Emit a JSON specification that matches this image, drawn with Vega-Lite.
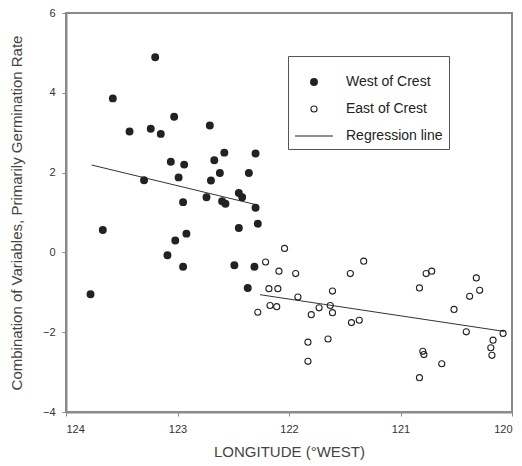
{
  "$schema": "https://vega.github.io/schema/vega-lite/v6.json",
  "width": 446,
  "height": 399,
  "autosize": "none",
  "padding": {"left": 66, "top": 13, "right": 10, "bottom": 54},
  "background": "white",
  "config": {
    "font": "Liberation Sans",
    "view": {"stroke": "#8a8a8a", "strokeWidth": 2},
    "axis": {"grid": false, "domainColor": "#8a8a8a", "domainWidth": 2, "tickColor": "#8a8a8a", "tickSize": 4, "labelColor": "#333", "titleColor": "#444", "labelFontSize": 11, "titleFontWeight": "normal", "labelPadding": 7}
  },
  "datasets": {
    "points": [
      {"lon": 123.20, "val": 4.89, "series": "West of Crest"},
      {"lon": 123.58, "val": 3.86, "series": "West of Crest"},
      {"lon": 123.03, "val": 3.40, "series": "West of Crest"},
      {"lon": 122.71, "val": 3.18, "series": "West of Crest"},
      {"lon": 123.43, "val": 3.03, "series": "West of Crest"},
      {"lon": 123.24, "val": 3.10, "series": "West of Crest"},
      {"lon": 123.15, "val": 2.97, "series": "West of Crest"},
      {"lon": 122.58, "val": 2.50, "series": "West of Crest"},
      {"lon": 122.30, "val": 2.48, "series": "West of Crest"},
      {"lon": 123.06, "val": 2.27, "series": "West of Crest"},
      {"lon": 122.94, "val": 2.20, "series": "West of Crest"},
      {"lon": 122.67, "val": 2.31, "series": "West of Crest"},
      {"lon": 122.62, "val": 1.99, "series": "West of Crest"},
      {"lon": 122.36, "val": 1.99, "series": "West of Crest"},
      {"lon": 123.30, "val": 1.81, "series": "West of Crest"},
      {"lon": 122.99, "val": 1.88, "series": "West of Crest"},
      {"lon": 122.70, "val": 1.80, "series": "West of Crest"},
      {"lon": 122.95, "val": 1.26, "series": "West of Crest"},
      {"lon": 122.74, "val": 1.38, "series": "West of Crest"},
      {"lon": 122.60, "val": 1.28, "series": "West of Crest"},
      {"lon": 122.57, "val": 1.22, "series": "West of Crest"},
      {"lon": 122.45, "val": 1.49, "series": "West of Crest"},
      {"lon": 122.42, "val": 1.38, "series": "West of Crest"},
      {"lon": 122.30, "val": 1.12, "series": "West of Crest"},
      {"lon": 123.67, "val": 0.56, "series": "West of Crest"},
      {"lon": 122.28, "val": 0.72, "series": "West of Crest"},
      {"lon": 122.45, "val": 0.61, "series": "West of Crest"},
      {"lon": 122.92, "val": 0.47, "series": "West of Crest"},
      {"lon": 123.02, "val": 0.30, "series": "West of Crest"},
      {"lon": 123.09, "val": -0.07, "series": "West of Crest"},
      {"lon": 122.95, "val": -0.36, "series": "West of Crest"},
      {"lon": 122.49, "val": -0.32, "series": "West of Crest"},
      {"lon": 122.31, "val": -0.36, "series": "West of Crest"},
      {"lon": 122.37, "val": -0.89, "series": "West of Crest"},
      {"lon": 123.78, "val": -1.05, "series": "West of Crest"},
      {"lon": 122.04, "val": 0.10, "series": "East of Crest"},
      {"lon": 122.21, "val": -0.24, "series": "East of Crest"},
      {"lon": 122.09, "val": -0.47, "series": "East of Crest"},
      {"lon": 122.18, "val": -0.91, "series": "East of Crest"},
      {"lon": 122.10, "val": -0.91, "series": "East of Crest"},
      {"lon": 122.28, "val": -1.50, "series": "East of Crest"},
      {"lon": 122.17, "val": -1.33, "series": "East of Crest"},
      {"lon": 122.11, "val": -1.36, "series": "East of Crest"},
      {"lon": 121.94, "val": -0.53, "series": "East of Crest"},
      {"lon": 121.92, "val": -1.12, "series": "East of Crest"},
      {"lon": 121.61, "val": -0.97, "series": "East of Crest"},
      {"lon": 121.63, "val": -1.33, "series": "East of Crest"},
      {"lon": 121.61, "val": -1.51, "series": "East of Crest"},
      {"lon": 121.80, "val": -1.56, "series": "East of Crest"},
      {"lon": 121.73, "val": -1.39, "series": "East of Crest"},
      {"lon": 121.83, "val": -2.25, "series": "East of Crest"},
      {"lon": 121.83, "val": -2.73, "series": "East of Crest"},
      {"lon": 121.65, "val": -2.17, "series": "East of Crest"},
      {"lon": 121.45, "val": -0.53, "series": "East of Crest"},
      {"lon": 121.33, "val": -0.22, "series": "East of Crest"},
      {"lon": 121.44, "val": -1.76, "series": "East of Crest"},
      {"lon": 121.37, "val": -1.70, "series": "East of Crest"},
      {"lon": 120.83, "val": -0.89, "series": "East of Crest"},
      {"lon": 120.77, "val": -0.53, "series": "East of Crest"},
      {"lon": 120.72, "val": -0.47, "series": "East of Crest"},
      {"lon": 120.80, "val": -2.48, "series": "East of Crest"},
      {"lon": 120.79, "val": -2.56, "series": "East of Crest"},
      {"lon": 120.83, "val": -3.14, "series": "East of Crest"},
      {"lon": 120.63, "val": -2.79, "series": "East of Crest"},
      {"lon": 120.52, "val": -1.43, "series": "East of Crest"},
      {"lon": 120.41, "val": -1.99, "series": "East of Crest"},
      {"lon": 120.38, "val": -1.10, "series": "East of Crest"},
      {"lon": 120.29, "val": -0.95, "series": "East of Crest"},
      {"lon": 120.32, "val": -0.64, "series": "East of Crest"},
      {"lon": 120.17, "val": -2.20, "series": "East of Crest"},
      {"lon": 120.19, "val": -2.39, "series": "East of Crest"},
      {"lon": 120.18, "val": -2.58, "series": "East of Crest"},
      {"lon": 120.08, "val": -2.03, "series": "East of Crest"}
    ],
    "lines": [
      {"lon": 123.77, "val": 2.19, "segment": "West"},
      {"lon": 122.30, "val": 1.20, "segment": "West"},
      {"lon": 122.26, "val": -1.06, "segment": "East"},
      {"lon": 120.07, "val": -1.98, "segment": "East"}
    ]
  },
  "layer": [
    {
      "data": {"name": "lines"},
      "mark": {"type": "line", "color": "#333", "strokeWidth": 1},
      "encoding": {
        "x": {"field": "lon", "type": "quantitative", "scale": {"domain": [120, 124], "reverse": true, "nice": false, "zero": false},
          "axis": {"values": [120, 121, 122, 123, 124], "format": "d", "title": "LONGITUDE (°WEST)", "titleFontSize": 15, "titlePadding": 10}},
        "y": {"field": "val", "type": "quantitative", "scale": {"domain": [-4, 6], "nice": false, "zero": false},
          "axis": {"values": [-4, -2, 0, 2, 4, 6], "title": "Combination of Variables, Primarily Germination Rate", "titleFontSize": 15, "titlePadding": 18}},
        "detail": {"field": "segment"}
      }
    },
    {
      "data": {"name": "points"},
      "mark": {"type": "point", "filled": false, "stroke": "#222", "strokeWidth": 1.1, "opacity": 1, "size": 1444},
      "encoding": {
        "x": {"field": "lon", "type": "quantitative"},
        "y": {"field": "val", "type": "quantitative"},
        "shape": {"field": "series", "type": "nominal",
          "scale": {"domain": ["West of Crest", "East of Crest", "Regression line"],
            "range": [
              "M0.18,0A0.18,0.18,0,1,1,-0.18,0A0.18,0.18,0,1,1,0.18,0M0.14,0A0.14,0.14,0,1,1,-0.14,0A0.14,0.14,0,1,1,0.14,0M0.1,0A0.1,0.1,0,1,1,-0.1,0A0.1,0.1,0,1,1,0.1,0M0.06,0A0.06,0.06,0,1,1,-0.06,0A0.06,0.06,0,1,1,0.06,0M0.025,0A0.025,0.025,0,1,1,-0.025,0A0.025,0.025,0,1,1,0.025,0",
              "M0.16,0A0.16,0.16,0,1,1,-0.16,0A0.16,0.16,0,1,1,0.16,0",
              "M-1,0H1"
            ]},
          "legend": {"title": null, "orient": "none", "legendX": 222, "legendY": 43, "strokeColor": "#555", "padding": 6, "labelFontSize": 14, "labelColor": "#222", "rowPadding": -9, "labelOffset": 12, "symbolSize": 1444, "symbolStrokeColor": "#222", "symbolStrokeWidth": 1.1, "symbolFillColor": "transparent", "symbolOpacity": 1}}
      }
    }
  ]
}
